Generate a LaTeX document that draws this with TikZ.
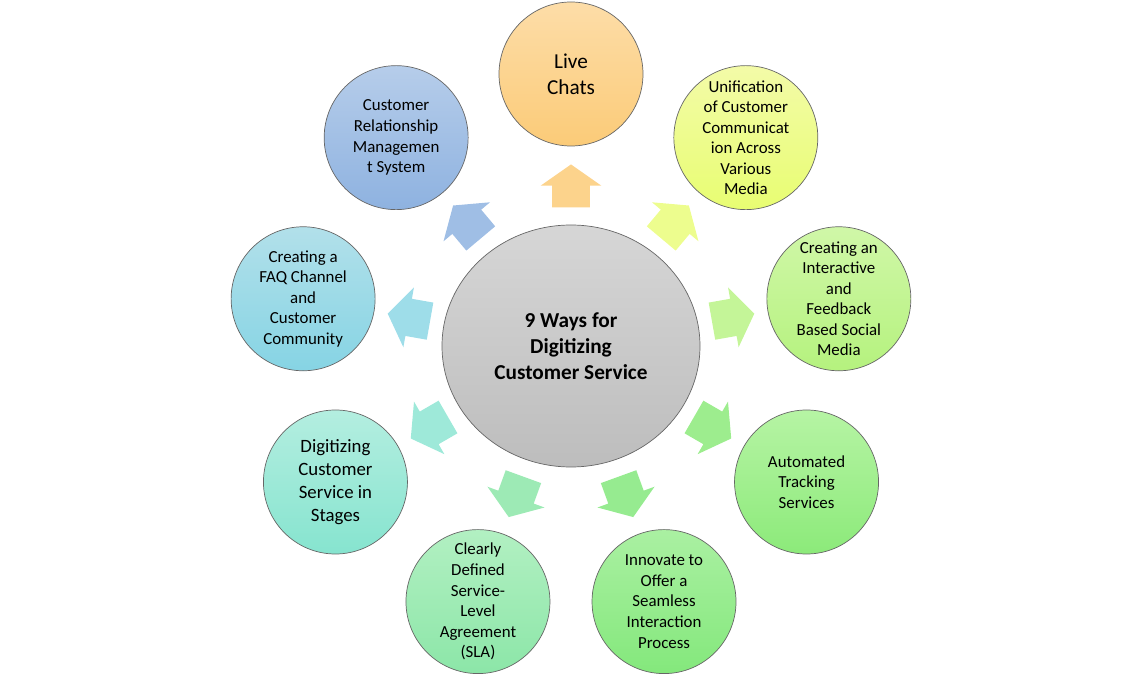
\documentclass[tikz,border=0pt]{standalone}
\usepackage{fontspec}
\setmainfont{Carlito}
\usetikzlibrary{shapes.geometric,shapes.arrows}

\definecolor{hubtop}{HTML}{D6D6D6}
\definecolor{hubbot}{HTML}{BDBDBD}
\definecolor{livetop}{HTML}{FDDDA8}
\definecolor{livebot}{HTML}{FBCB78}
\definecolor{uniftop}{HTML}{F3FBA8}
\definecolor{unifbot}{HTML}{E8FD72}
\definecolor{intertop}{HTML}{D0F7A8}
\definecolor{interbot}{HTML}{B5F27E}
\definecolor{autotop}{HTML}{B6F4A4}
\definecolor{autobot}{HTML}{8CEA7A}
\definecolor{innovtop}{HTML}{AAF0A2}
\definecolor{innovbot}{HTML}{84E87C}
\definecolor{slatop}{HTML}{B2F0C2}
\definecolor{slabot}{HTML}{8CE6A8}
\definecolor{stagetop}{HTML}{B4EEE0}
\definecolor{stagebot}{HTML}{86E4CF}
\definecolor{faqtop}{HTML}{B2E0EA}
\definecolor{faqbot}{HTML}{86D4E4}
\definecolor{crmtop}{HTML}{B6CDEA}
\definecolor{crmbot}{HTML}{8EB2E0}

\begin{document}
\begin{tikzpicture}[
    hubnode/.style={ellipse, draw=black!60, line width=0.4pt, minimum width=5.16cm, minimum height=4.84cm,
        top color=hubtop, bottom color=hubbot, align=center, font=\fontsize{12.1}{14.7}\selectfont\bfseries},
    waynode/.style={circle, draw=black!60, line width=0.4pt, minimum size=2.88cm, inner sep=0pt,
        align=center, font=\fontsize{9.6}{11.7}\selectfont},
    blockarrow/.style={single arrow, draw=none, fill=#1, minimum height=0.86cm, inner xsep=0pt, inner ysep=0.37cm,
        single arrow head extend=0.23cm, single arrow tip angle=110, sloped, allow upside down, pos=0.41}
]
        \useasboundingbox (-11.42,-6.62) rectangle (11.44,6.92);

        % Draw the hub
        \node[hubnode] (hub) at (0,0) {9 Ways for\\Digitizing\\Customer Service};

        % Draw the nine ways around it
        \node[waynode, top color=livetop, bottom color=livebot, font=\fontsize{12.1}{14.7}\selectfont] (live) at (90:5.44) {Live\\Chats};
        \node[waynode, top color=uniftop, bottom color=unifbot] (unif) at (50:5.44) {Unification\\of Customer\\Communicat\\ion Across\\Various\\Media};
        \node[waynode, top color=intertop, bottom color=interbot] (inter) at (10:5.44) {Creating an\\Interactive\\and\\Feedback\\Based Social\\Media};
        \node[waynode, top color=autotop, bottom color=autobot] (auto) at (-30:5.44) {Automated\\Tracking\\Services};
        \node[waynode, top color=innovtop, bottom color=innovbot] (innov) at (-70:5.44) {Innovate to\\Offer a\\Seamless\\Interaction\\Process};
        \node[waynode, top color=slatop, bottom color=slabot] (sla) at (-110:5.44) {Clearly\\Defined\\Service-\\Level\\Agreement\\(SLA)};
        \node[waynode, top color=stagetop, bottom color=stagebot, font=\fontsize{10.7}{13}\selectfont] (stage) at (-150:5.44) {Digitizing\\Customer\\Service in\\Stages};
        \node[waynode, top color=faqtop, bottom color=faqbot] (faq) at (170:5.44) {Creating a\\FAQ Channel\\and\\Customer\\Community};
        \node[waynode, top color=crmtop, bottom color=crmbot] (crm) at (130:5.44) {Customer\\Relationship\\Managemen\\t System};

        % Draw the block arrows from the hub
        \path (hub) -- (live) node[blockarrow=livebot!85!white] (a1) {};
        \path (hub) -- (unif) node[blockarrow=unifbot!80!white] (a2) {};
        \path (hub) -- (inter) node[blockarrow=interbot!80!white] (a3) {};
        \path (hub) -- (auto) node[blockarrow=autobot!85!white] (a4) {};
        \path (hub) -- (innov) node[blockarrow=innovbot!85!white] (a5) {};
        \path (hub) -- (sla) node[blockarrow=slabot!85!white] (a6) {};
        \path (hub) -- (stage) node[blockarrow=stagebot!80!white] (a7) {};
        \path (hub) -- (faq) node[blockarrow=faqbot!80!white] (a8) {};
        \path (hub) -- (crm) node[blockarrow=crmbot!85!white] (a9) {};

    \end{tikzpicture}
\end{document}
